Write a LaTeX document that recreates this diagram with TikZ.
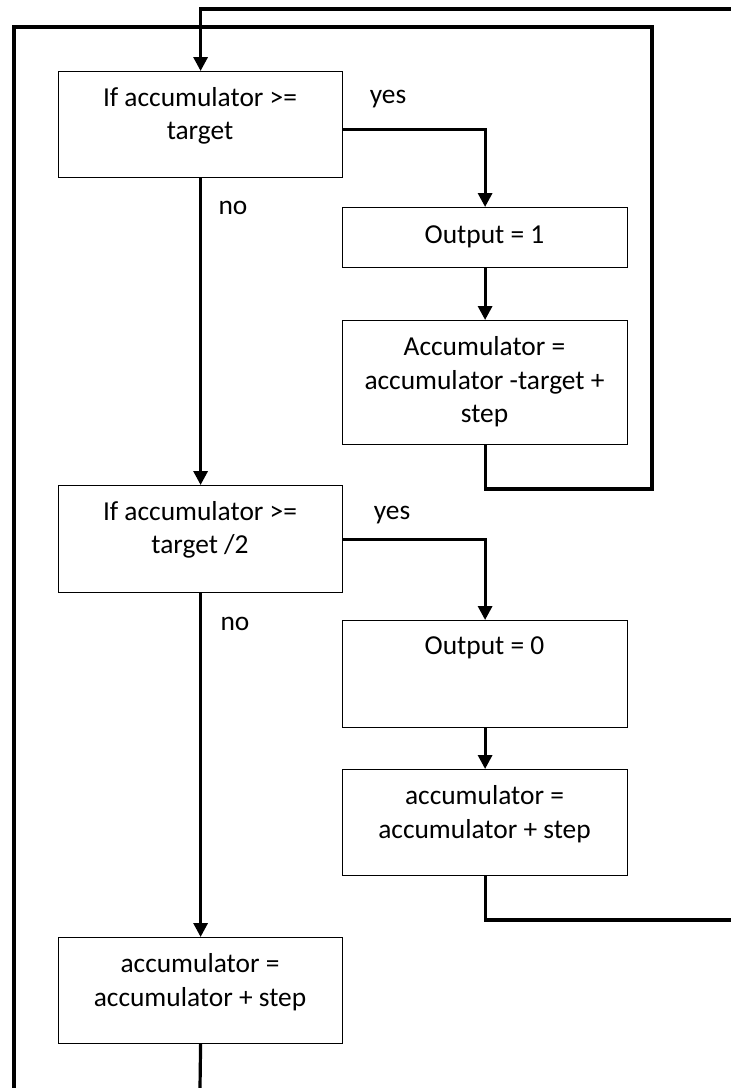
\documentclass[tikz,border=0pt]{standalone}
\usepackage{fontspec}
\setmainfont{Carlito}
\usetikzlibrary{arrows.meta}
\begin{document}
\begin{tikzpicture}[x=0.5pt,y=-0.5pt,
  box/.style={draw=black,line width=0.6pt,rectangle,inner sep=0pt,anchor=north west},
  txt/.style={font=\fontsize{13.7}{16.8}\selectfont,align=center,inner sep=0pt},
  lbl/.style={font=\fontsize{13.7}{16.8}\selectfont,inner sep=0pt},
  conn/.style={line width=1.6pt},
  arr/.style={line width=1.6pt,-{Triangle[width=7pt,length=7pt]}}]
\useasboundingbox (0,0) rectangle (731,1088);
% boxes
\node[box,minimum width=142pt,minimum height=53pt] (b1) at (58,71) {};
\node[box,minimum width=142.5pt,minimum height=30pt] (b2) at (342,207) {};
\node[box,minimum width=142.5pt,minimum height=62pt] (b3) at (342,320) {};
\node[box,minimum width=142pt,minimum height=53.5pt] (b4) at (58,485) {};
\node[box,minimum width=142.5pt,minimum height=53.5pt] (b5) at (342,620) {};
\node[box,minimum width=142.5pt,minimum height=53pt] (b6) at (342,769) {};
\node[box,minimum width=142pt,minimum height=53pt] (b7) at (58,937) {};
% texts
\node[txt] (t1) at (200,116) {If accumulator >=\\target};
\node[txt] (t2) at (484.5,237) {Output = 1};
\node[txt] (t3) at (484.5,382) {Accumulator =\\accumulator -target +\\step};
\node[txt] (t4) at (200,530) {If accumulator >=\\target /2};
\node[txt] (t5) at (484.5,648) {Output = 0};
\node[txt] (t6) at (484.5,814) {accumulator =\\accumulator + step};
\node[txt] (t7) at (200,982) {accumulator =\\accumulator + step};
% labels
\node[lbl] (y1) at (388,99) {yes};
\node[lbl] (n1) at (233,208) {no};
\node[lbl] (y2) at (392,515) {yes};
\node[lbl] (n2) at (235,624) {no};
% free ends
\coordinate (topR) at (731,9);
\coordinate (loopA) at (652,489);
\coordinate (loopB) at (652,27);
\coordinate (loopC) at (14,27);
\coordinate (leftEnd) at (14,1088);
\coordinate (b6end) at (731,920);
\coordinate (b7end) at (200,1088);
% connectors
\draw[arr] (topR) -| (b1.north);
\draw[arr] ([yshift=-2.5pt]b1.east) -| (b2.north);
\draw[arr] (b2.south) -- (b3.north);
\draw[conn] (b3.south) |- (loopA) -- (loopB) -- (loopC) -- (leftEnd);
\draw[arr] (b1.south) -- (b4.north);
\draw[arr] (b4.east) -| (b5.north);
\draw[arr] (b5.south) -- (b6.north);
\draw[conn] (b6.south) |- (b6end);
\draw[arr] (b4.south) -- (b7.north);
\draw[conn] (b7.south) -- (b7end);
\end{tikzpicture}
\end{document}
